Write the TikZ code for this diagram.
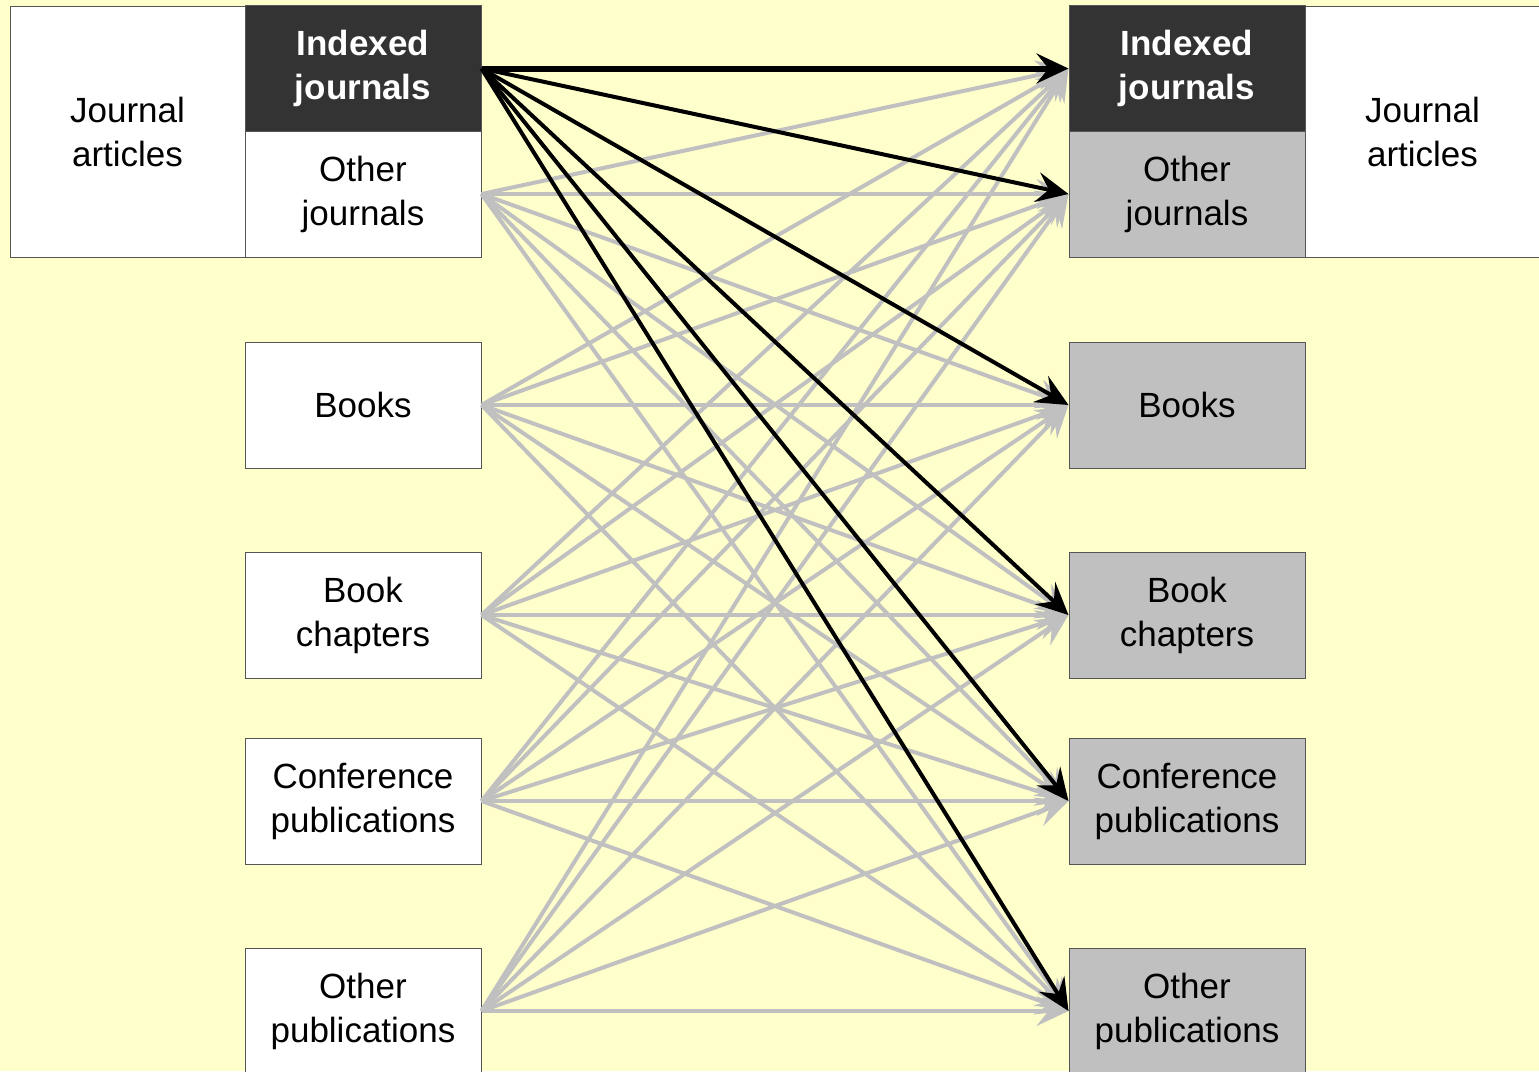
\documentclass[tikz,border=0pt]{standalone}
\usepackage{fontspec}
\setmainfont{Liberation Sans}
\usetikzlibrary{arrows.meta}
\definecolor{bgyellow}{HTML}{FFFFCC}
\definecolor{darkbox}{HTML}{333333}
\definecolor{lightbox}{HTML}{C0C0C0}
\definecolor{arrowgray}{HTML}{C0C0C0}
\definecolor{edgegray}{HTML}{555555}
\begin{document}
\begin{tikzpicture}[x=1pt,y=1pt,
  box/.style={draw=edgegray, line width=1pt, minimum width=236pt, minimum height=126pt,
    inner sep=0pt, align=center, font=\fontsize{35}{44}\selectfont},
  whitebox/.style={box, fill=white},
  greybox/.style={box, fill=lightbox},
  darkbx/.style={box, fill=darkbox, text=white, font=\fontsize{35}{44}\selectfont\bfseries},
  tipstyle/.style={-{Stealth[length=32pt,width=30pt,inset=12pt]}},
  grayarrow/.style={tipstyle, draw=arrowgray, line width=4pt},
  blackarrow/.style={tipstyle, draw=black, line width=4pt}]
\useasboundingbox (0,0) rectangle (1539,-1071);
\fill[bgyellow] (0,0) rectangle (1539,-1071);
% left column
\node[whitebox, minimum width=235pt, minimum height=251pt] (LJA) at (127.5,-131.5) {Journal\\articles};
\node[darkbx] (L0) at (363,-68.5) {Indexed\\journals};
\node[whitebox] (L1) at (363,-194) {Other\\journals};
\node[whitebox] (L2) at (363,-405) {Books};
\node[whitebox] (L3) at (363,-615) {Book\\chapters};
\node[whitebox] (L4) at (363,-801) {Conference\\publications};
\node[whitebox] (L5) at (363,-1011) {Other\\publications};
% right column
\node[whitebox, minimum width=235pt, minimum height=251pt] (RJA) at (1422.5,-131.5) {Journal\\articles};
\node[darkbx] (R0) at (1187,-68.5) {Indexed\\journals};
\node[greybox] (R1) at (1187,-194) {Other\\journals};
\node[greybox] (R2) at (1187,-405) {Books};
\node[greybox] (R3) at (1187,-615) {Book\\chapters};
\node[greybox] (R4) at (1187,-801) {Conference\\publications};
\node[greybox] (R5) at (1187,-1011) {Other\\publications};
% connectors
\foreach \i in {1,...,5}
  \foreach \j in {0,...,5}
    \draw[grayarrow] (L\i.east) -- (R\j.west);
\draw[blackarrow, line width=6pt] (L0.east) -- (R0.west);
\foreach \j in {1,...,5}
  \draw[blackarrow] (L0.east) -- (R\j.west);
\end{tikzpicture}
\end{document}
